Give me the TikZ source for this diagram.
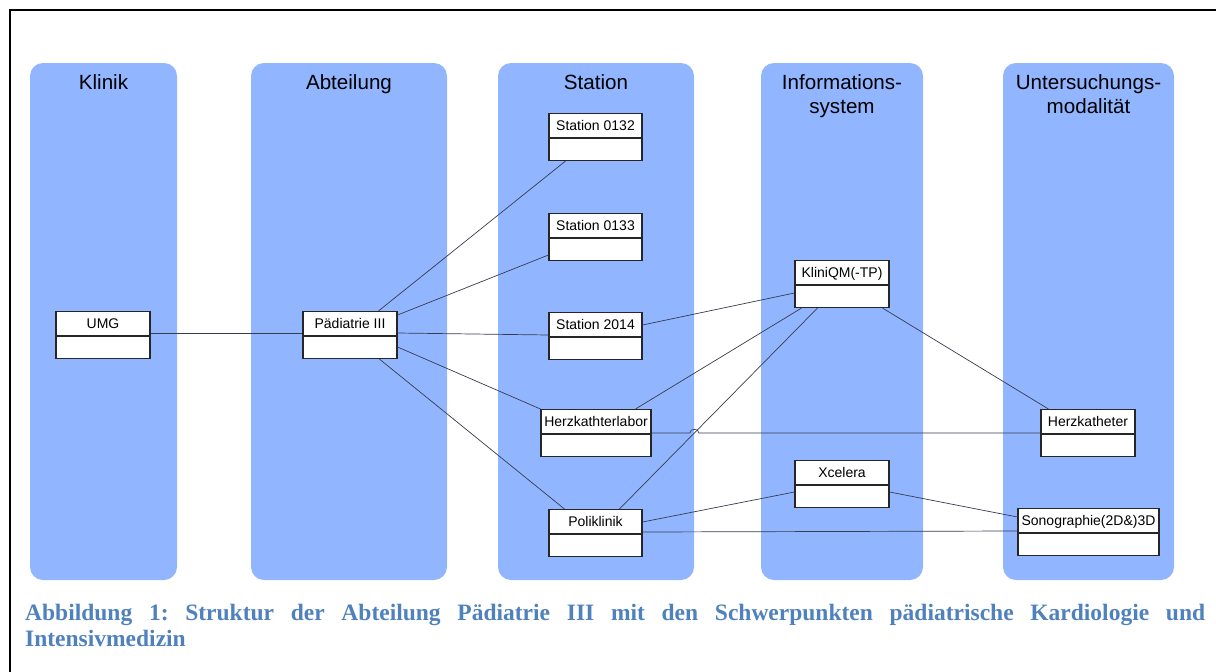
\documentclass[tikz,border=0pt]{standalone}
\usepackage{fontspec}
\setmainfont{Liberation Sans}
\newfontfamily\capfont{Liberation Serif}
\usetikzlibrary{calc}

\definecolor{laneblue}{RGB}{145,182,255}
\definecolor{capblue}{RGB}{79,129,189}
\definecolor{wire}{RGB}{55,60,75}

\tikzset{
  lane/.style={fill=laneblue, draw=none, rounded corners=13pt},
  lanetitle/.style={font=\fontsize{20.6}{24}\selectfont, anchor=base, inner sep=0pt, text=black},
  clsbox/.style={draw=black!85, line width=1.1pt, fill=white, minimum height=47pt, inner sep=0pt},
  clstext/.style={font=\fontsize{14}{16}\selectfont, anchor=base, inner sep=0pt},
  link/.style={draw=wire, line width=0.7pt},
  captext/.style={font=\capfont\bfseries\fontsize{23.5}{26}\selectfont\frenchspacing, text=capblue, anchor=base west, inner sep=0pt},
}

% class box with a header compartment and an empty lower compartment
% #1 name, #2 centre x, #3 top y, #4 width, #5 label
\newcommand\umlclass[5]{%
  \node[clsbox, minimum width=#4pt, anchor=north] (#1) at (#2,#3) {};
  \draw[black!85, line width=1.1pt] ($(#1.north west)+(0,25)$) -- ($(#1.north east)+(0,25)$);
  \node[clstext] (#1-label) at ($(#1.north)+(0,17.3)$) {#5};
}

\begin{document}
\begin{tikzpicture}[x=1pt, y=-1pt]
\useasboundingbox (0,0) rectangle (1216,672);

% frame lines
\draw[black, line width=2.2pt] (10,672) -- (10,10) -- (1216,10);

% swim lanes
\fill[lane] (30,63) rectangle (177,580);
\fill[lane] (251,63) rectangle (447,580);
\fill[lane] (498,63) rectangle (694,580);
\fill[lane] (761,63) rectangle (923,580);
\fill[lane] (1003,63) rectangle (1174,580);

\node[lanetitle] (t-klinik) at (103.5,89) {Klinik};
\node[lanetitle] (t-abt) at (349,89) {Abteilung};
\node[lanetitle] (t-station) at (596,89) {Station};
\node[lanetitle] (t-info1) at (842,89) {Informations-};
\node[lanetitle] (t-info2) at (842,113) {system};
\node[lanetitle] (t-unt1) at (1088.5,89) {Untersuchungs-};
\node[lanetitle] (t-unt2) at (1088.5,113) {modalität};

% class boxes
\umlclass{umg}{103}{311}{94}{UMG}
\umlclass{pad}{350}{311}{94}{Pädiatrie III}
\umlclass{s0132}{595.5}{113}{93}{Station 0132}
\umlclass{s0133}{595.5}{213}{93}{Station 0133}
\umlclass{s2014}{595.5}{312}{93}{Station 2014}
\umlclass{labor}{596}{409}{110}{Herzkathterlabor}
\umlclass{poli}{595.5}{509}{93}{Poliklinik}
\umlclass{kqm}{842}{260}{94}{KliniQM(-TP)}
\umlclass{xce}{842}{460}{94}{Xcelera}
\umlclass{hk}{1088}{409}{94}{Herzkatheter}
\umlclass{sono}{1088.5}{508}{141}{Sonographie(2D\&)3D}

% connectors
\draw[link] ($(umg.north east)+(0,22)$) -- ($(pad.north west)+(0,22)$);
\draw[link] ($(pad.north west)+(76,0)$) -- ($(s0132.south west)+(17,0)$);
\draw[link] ($(pad.north east)+(0,4)$) -- ($(s0133.north west)+(0,42)$);
\draw[link] ($(pad.north east)+(0,22)$) -- ($(s2014.north west)+(0,23)$);
\draw[link] ($(pad.north east)+(0,36)$) -- (labor.north west);
\draw[link] ($(pad.south west)+(77,0)$) -- ($(poli.north west)+(16,0)$);
\draw[link] ($(s2014.north east)+(0,13)$) -- ($(kqm.north west)+(0,33)$);
\draw[link] ($(labor.north west)+(95,0)$) -- ($(kqm.south west)+(7,0)$);
\coordinate (poliTop) at ($(poli.north west)+(71,0)$);
\coordinate (kqmBot) at ($(kqm.south west)+(23,0)$);
\draw[link] (poliTop) -- (kqmBot);
\draw[link] ($(kqm.south east)+(-7,0)$) -- ($(hk.north west)+(8,0)$);
\coordinate (laborE) at ($(labor.north east)+(0,24)$);
\coordinate (hkW) at ($(hk.north west)+(0,24)$);
\coordinate (hop) at (intersection of poliTop--kqmBot and laborE--hkW);
\draw[link] (laborE) -- ($(hop)+(-4.5,0)$)
  .. controls ($(hop)+(-4.5,-5)$) and ($(hop)+(4.5,-5)$) .. ($(hop)+(4.5,0)$) -- (hkW);
\draw[link] ($(poli.north east)+(0,13)$) -- ($(xce.north west)+(0,32)$);
\draw[link] ($(poli.north east)+(0,23)$) -- ($(sono.north west)+(0,23)$);
\draw[link] ($(xce.north east)+(0,32)$) -- ($(sono.north west)+(0,9)$);

% caption
\node[captext] (cap1) at (25,620) {\makebox[1180pt][s]{Abbildung 1: Struktur der Abteilung Pädiatrie III mit den Schwerpunkten pädiatrische Kardiologie und}};
\node[captext] (cap2) at (25,646) {Intensivmedizin};
\end{tikzpicture}
\end{document}
